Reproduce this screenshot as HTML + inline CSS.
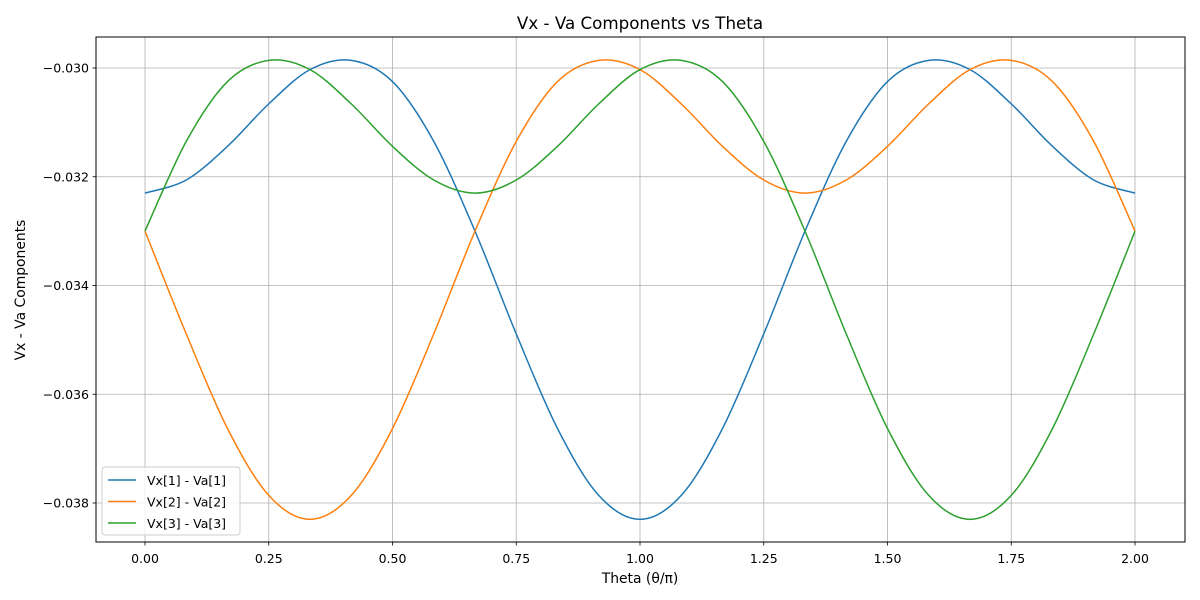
<!DOCTYPE html>
<html><head><meta charset="utf-8"><style>
body{margin:0;background:#fff;}
svg{display:block;font-family:"DejaVu Sans","Liberation Sans",sans-serif;}
</style></head><body>
<svg id="chart" width="1200" height="600">
<rect width="1200" height="600" fill="#fff"/>
<text x="640" y="29" font-size="16.7" text-anchor="middle">Vx - Va Components vs Theta</text>
<g id="grid"></g><g id="ticks"></g><g id="series"></g>
<rect x="96" y="37" width="1089" height="505" fill="none" stroke="#000" stroke-width="1"/>
<text x="640" y="583" font-size="13.9" text-anchor="middle">Theta (θ/π)</text>
<text x="0" y="0" font-size="13.9" text-anchor="middle" transform="translate(25,290) rotate(-90)">Vx - Va Components</text>
<g>
<rect x="102" y="467" width="138" height="68" rx="3" fill="#fff" fill-opacity="0.8" stroke="#ccc"/>
<g id="legend"></g>
</g>
</svg>
<script>
const thetaStep = 1/12;
const blue = [-0.03230,-0.03206,-0.03144,-0.03066,-0.03003,-0.02986,-0.03025,-0.03135,-0.03300,-0.03489,-0.03663,-0.03786,-0.03830,-0.03786,-0.03663,-0.03489,-0.03300,-0.03135,-0.03025,-0.02986,-0.03003,-0.03066,-0.03144,-0.03206,-0.03230];
const orange = [-0.03300,-0.03489,-0.03663,-0.03786,-0.03830,-0.03786,-0.03663,-0.03489,-0.03300,-0.03135,-0.03025,-0.02986,-0.03003,-0.03066,-0.03144,-0.03206,-0.03230,-0.03206,-0.03144,-0.03066,-0.03003,-0.02986,-0.03025,-0.03135,-0.03300];
const green = [-0.03300,-0.03135,-0.03025,-0.02986,-0.03003,-0.03066,-0.03144,-0.03206,-0.03230,-0.03206,-0.03144,-0.03066,-0.03003,-0.02986,-0.03025,-0.03135,-0.03300,-0.03489,-0.03663,-0.03786,-0.03830,-0.03786,-0.03663,-0.03489,-0.03300];
const seriesNames = ["Vx[1] - Va[1]","Vx[2] - Va[2]","Vx[3] - Va[3]"];
const xTicks = [0,0.25,0.5,0.75,1,1.25,1.5,1.75,2];
const xTickLabels = ["0.00","0.25","0.50","0.75","1.00","1.25","1.50","1.75","2.00"];
const yTicks = [-0.030,-0.032,-0.034,-0.036,-0.038];
const yTickLabels = ["−0.030","−0.032","−0.034","−0.036","−0.038"];

const NS="http://www.w3.org/2000/svg";
const X = v => 145 + v*495;
const Y = v => 68 + (-0.030 - v)/0.001*54.375;
function mk(tag, attrs, parent){const e=document.createElementNS(NS,tag);for(const k in attrs)e.setAttribute(k,attrs[k]);parent.appendChild(e);return e;}
const grid=document.getElementById('grid'), ticks=document.getElementById('ticks'), ser=document.getElementById('series'), leg=document.getElementById('legend');
xTicks.forEach((t,i)=>{
  const g=mk('line',{x1:X(t),x2:X(t),y1:37,y2:542,stroke:'#b0b0b0','stroke-width':0.8},grid);
  
  
  mk('line',{x1:X(t),x2:X(t),y1:542,y2:545.5,stroke:'#000','stroke-width':0.8},ticks);
  const tx=mk('text',{x:X(t),y:563,'font-size':12.5,'text-anchor':'middle'},ticks);
  tx.textContent=xTickLabels[i];
  
  
});
yTicks.forEach((t,i)=>{
  const g=mk('line',{x1:96,x2:1185,y1:Y(t),y2:Y(t),stroke:'#b0b0b0','stroke-width':0.8},grid);
  
  
  mk('line',{x1:92.5,x2:96,y1:Y(t),y2:Y(t),stroke:'#000','stroke-width':0.8},ticks);
  const tx=mk('text',{x:89,y:Y(t)+4.5,'font-size':12.5,'text-anchor':'end'},ticks);
  tx.textContent=yTickLabels[i];
  
  
});
function pathFor(vals){
  const p=vals.map((v,i)=>[X(i*thetaStep),Y(v)]);
  let d=`M${p[0][0]},${p[0][1]}`;
  for(let i=0;i<p.length-1;i++){
    const p0=p[Math.max(0,i-1)],p1=p[i],p2=p[i+1],p3=p[Math.min(p.length-1,i+2)];
    const c1=[p1[0]+(p2[0]-p0[0])/6,p1[1]+(p2[1]-p0[1])/6];
    const c2=[p2[0]-(p3[0]-p1[0])/6,p2[1]-(p3[1]-p1[1])/6];
    d+=` C${c1[0]},${c1[1]} ${c2[0]},${c2[1]} ${p2[0]},${p2[1]}`;
  }
  return d;
}
const all=[blue,orange,green], colors=['#1f77b4','#ff7f0e','#2ca02c'], keys=['blue','orange','green'];
all.forEach((vals,i)=>{
  const l=mk('path',{d:pathFor(vals),fill:'none',stroke:colors[i],'stroke-width':1.5},ser);
  
  
  const y=480+i*21.5;
  const ll=mk('line',{x1:108,x2:136,y1:y,y2:y,stroke:colors[i],'stroke-width':1.5},leg);
  
  
  const t=mk('text',{x:147,y:y+5,'font-size':12.5},leg);
  t.textContent=seriesNames[i];
  
  
});
</script>
</body></html>
